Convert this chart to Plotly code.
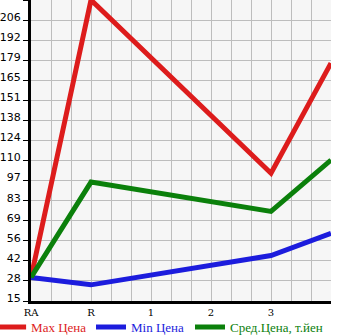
import plotly.graph_objects as go

categories = ["RA", "R", "1", "2", "3", ""]
point_pos = [0, 1, 4, 5]
max_price = [31, 220, 102, 177]
min_price = [31, 26, 46, 61]
avg_price = [31, 96, 76, 111]

y_min, y_max = 15, 220
n_steps = 15
step = (y_max - y_min) / n_steps
y_tickvals = [y_min + i * step for i in range(n_steps + 1)]
y_ticktext = [str(int(v)) for v in y_tickvals]
y_ticktext[-1] = ""

x_tickvals = [i / 3 for i in range(16)]
x_ticktext = [categories[i // 3] if i % 3 == 0 else "" for i in range(16)]

fig = go.Figure()
series = [
    ("Max Цена", max_price, "#dd1c1c", "legend", -0.133),
    ("Min Цена", min_price, "#1c1cdd", "legend2", 0.2),
    ("Сред.Цена, т.йен", avg_price, "#0b800b", "legend3", 0.53),
]
legend_cfg = {}
for name, vals, col, leg, lx in series:
    fig.add_trace(go.Scatter(
        x=point_pos, y=vals, mode="lines", name=name, legend=leg,
        line=dict(color=col, width=5),
    ))
    legend_cfg[leg] = dict(
        orientation="h", x=lx, xanchor="left", y=-0.037, yanchor="top",
        font=dict(family="Liberation Serif", size=13, color=col),
        itemwidth=30, borderwidth=0, bgcolor="rgba(0,0,0,0)",
    )

fig.update_layout(
    width=345, height=335,
    margin=dict(l=31, r=14, t=0, b=34, autoexpand=False),
    paper_bgcolor="white",
    plot_bgcolor="#f6f6f6",
    font=dict(family="DejaVu Sans", size=11, color="black"),
    showlegend=True,
    **legend_cfg,
)
fig.update_layout(
    xaxis=dict(
        range=[0, 5], tickmode="array", tickvals=x_tickvals, ticktext=x_ticktext,
        showgrid=True, gridcolor="#bdbdbd", gridwidth=1,
        showline=True, linecolor="black", linewidth=3,
        ticks="", zeroline=False,
        tickfont=dict(family="DejaVu Serif", size=10),
    ),
    xaxis2=dict(
        range=[0, 5], overlaying="x", anchor="y", side="bottom",
        tickmode="array", tickvals=x_tickvals, showticklabels=False,
        showgrid=False, showline=False, zeroline=False,
        ticks="outside", ticklen=4, tickcolor="black", tickwidth=1,
    ),
    yaxis=dict(
        range=[y_min, y_max], tickmode="array", tickvals=y_tickvals, ticktext=y_ticktext,
        showgrid=True, gridcolor="#bdbdbd", gridwidth=1,
        showline=True, linecolor="black", linewidth=3,
        ticks="outside", ticklen=5, tickcolor="black", tickwidth=1,
        ticklabelshift=-3,
        zeroline=False, tickfont=dict(family="DejaVu Sans", size=11),
    ),
)

fig.write_html("out.html")
